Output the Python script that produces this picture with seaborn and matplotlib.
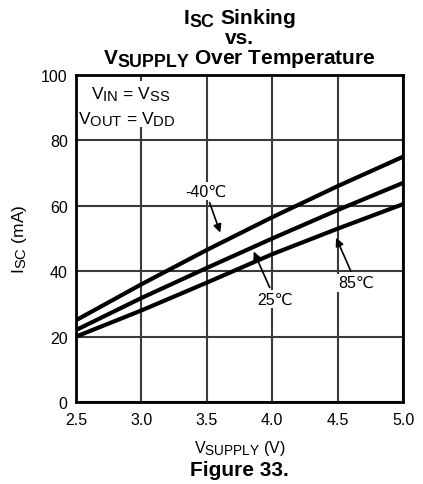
import numpy as np
import pandas as pd
import matplotlib
matplotlib.use("Agg")
import matplotlib.pyplot as plt
import matplotlib._mathtext as mt
from matplotlib.patches import Rectangle
import seaborn as sns

# Data
vsupply = [2.5, 3.0, 3.5, 4.0, 4.5, 5.0]
isc_m40 = [25.0, 36.0, 46.5, 56.5, 66.0, 75.0]
isc_25 = [22.0, 31.8, 41.0, 50.0, 58.7, 67.0]
isc_85 = [20.0, 28.0, 36.5, 45.2, 53.0, 60.5]
temps = ["-40℃", "25℃", "85℃"]

x_ticks = [2.5, 3.0, 3.5, 4.0, 4.5, 5.0]
y_ticks = [0, 20, 40, 60, 80, 100]

df = pd.DataFrame({
    "vsupply": vsupply * 3,
    "isc": isc_m40 + isc_25 + isc_85,
    "temp": [t for t in temps for _ in vsupply],
})

# datasheet-style subscripts are only slightly smaller than the main text
mt.SHRINK_FACTOR = 0.85

sns.set_style("white")
plt.rcParams["font.family"] = ["Liberation Sans", "DejaVu Sans"]
plt.rcParams["text.color"] = "black"
plt.rcParams["axes.labelcolor"] = "black"
plt.rcParams["mathtext.fontset"] = "custom"
plt.rcParams["mathtext.rm"] = "Liberation Sans"
plt.rcParams["mathtext.it"] = "Liberation Sans"
plt.rcParams["mathtext.bf"] = "Liberation Sans:bold"

fig = plt.figure(figsize=(4.23, 4.85), dpi=100)
ax = fig.add_axes([76 / 423, 1 - 403 / 485, 327 / 423, 327 / 485])

sns.lineplot(data=df, x="vsupply", y="isc", hue="temp",
             palette=["black"] * 3, linewidth=3, legend=False, ax=ax)

ax.set_xlim(2.5, 5.0)
ax.set_ylim(0, 100)
ax.set_xticks(x_ticks)
ax.set_xticklabels([f"{v:.1f}" for v in x_ticks])
ax.set_yticks(y_ticks)
ax.tick_params(axis="x", length=0, labelsize=11.5, pad=7, colors="black")
ax.tick_params(axis="y", length=0, labelsize=11.5, pad=6, colors="black")
ax.grid(True, color="#3a3a3a", linewidth=1.5)
for s in ax.spines.values():
    s.set_color("black")
    s.set_linewidth(2)

ax.set_xlabel("V$_{\\mathregular{SUPPLY}}$ (V)", fontsize=11.5, labelpad=8)
ax.set_ylabel("I$_{\\mathregular{SC}}$ (mA)", fontsize=12.5, labelpad=9)

# conditions box (white patch hides the grid behind the text)
ax.add_patch(Rectangle((0.005, 1 - 52 / 327), 0.34, 46 / 327,
                       transform=ax.transAxes, facecolor="white",
                       edgecolor="none", zorder=1.8))
ax.text(0.168, 1 - 19 / 327, "V$_{\\mathregular{IN}}$ = V$_{\\mathregular{SS}}$",
        transform=ax.transAxes, ha="center", va="center", fontsize=12.5, zorder=3)
ax.text(0.155, 1 - 44 / 327, "V$_{\\mathregular{OUT}}$ = V$_{\\mathregular{DD}}$",
        transform=ax.transAxes, ha="center", va="center", fontsize=12.5, zorder=3)

# curve labels with arrows
arrow = dict(arrowstyle="-|>", color="black", lw=1.2, mutation_scale=12)
label_box = dict(facecolor="white", edgecolor="none", pad=1)
ax.annotate(temps[0], xy=(3.61, 51.0), xytext=(3.49, 64.5), fontsize=11.5,
            ha="center", va="center", arrowprops=arrow, bbox=label_box, zorder=1.9)
ax.annotate(temps[1], xy=(3.85, 46.8), xytext=(4.02, 31.5), fontsize=11.5,
            ha="center", va="center", arrowprops=arrow, bbox=label_box, zorder=1.9)
ax.annotate(temps[2], xy=(4.48, 51.0), xytext=(4.64, 36.5), fontsize=11.5,
            ha="center", va="center", arrowprops=arrow, bbox=label_box, zorder=1.9)

cx = (76 + 403) / 2 / 423
fig.text(cx, 1 - 24 / 485, "$\\mathbf{I_{SC}}$ Sinking", ha="center", va="baseline",
         fontsize=15, fontweight="bold")
fig.text(cx, 1 - 44 / 485, "vs.", ha="center", va="baseline",
         fontsize=15, fontweight="bold")
fig.text(cx, 1 - 64 / 485, "$\\mathbf{V_{SUPPLY}}$ Over Temperature", ha="center",
         va="baseline", fontsize=15, fontweight="bold")
fig.text(cx, 1 - 476 / 485, "Figure 33.", ha="center", va="baseline",
         fontsize=15, fontweight="bold")

fig.savefig("out.png", dpi=100, facecolor="white")
plt.close(fig)
